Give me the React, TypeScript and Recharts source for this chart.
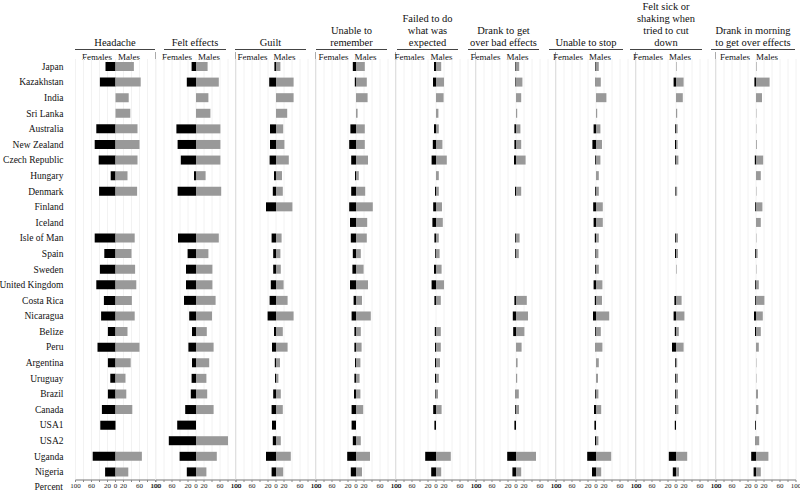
import React from "react";
import { BarChart, Bar, XAxis, YAxis, CartesianGrid } from "recharts";

const countries = [
  "Japan", "Kazakhstan", "India", "Sri Lanka", "Australia", "New Zealand", "Czech Republic",
  "Hungary", "Denmark", "Finland", "Iceland", "Isle of Man", "Spain", "Sweden", "United Kingdom",
  "Costa Rica", "Nicaragua", "Belize", "Peru", "Argentina", "Uruguay", "Brazil", "Canada",
  "USA1", "USA2", "Uganda", "Nigeria",
];

const headacheF = [25, 39, 0, 0, 48, 52, 42, 12, 41, 0, 0, 52, 28, 39, 48, 29, 36, 19, 45, 19, 13, 19, 34, 38, 0, 57, 26];
const headacheM = [46, 63, 33, 37, 55, 60, 55, 30, 54, 0, 0, 48, 40, 49, 52, 41, 48, 30, 60, 38, 25, 27, 42, 0, 0, 66, 32];

const feltF = [11, 23, 0, 0, 49, 46, 38, 5, 46, 0, 0, 45, 21, 25, 25, 30, 17, 10, 19, 10, 11, 13, 27, 47, 68, 41, 23];
const feltM = [29, 57, 31, 36, 61, 61, 61, 24, 63, 0, 0, 57, 31, 41, 41, 49, 40, 27, 44, 33, 26, 28, 44, 0, 80, 52, 26];

const guiltF = [4, 17, 0, 0, 15, 15, 16, 5, 8, 25, 0, 11, 7, 7, 13, 16, 21, 5, 10, 3, 2.5, 7, 11, 10, 8, 25, 11];
const guiltM = [11, 44, 44, 28, 18, 21, 32, 15, 17, 41, 0, 14, 11, 12, 19, 29, 44, 17, 29, 10, 6, 12, 17, 0, 12, 37, 18];

const rememberF = [8, 3, 0, 0, 14, 17, 12, 2.5, 12, 17, 15, 13, 8, 9, 15, 6, 11, 4, 4, 2.5, 4, 5, 11, 11, 8, 22, 13];
const rememberM = [22, 27, 29, 4, 22, 22, 30, 7, 23, 42, 28, 27, 12, 19, 30, 15, 37, 12, 14, 11, 9, 11, 18, 0, 12, 35, 15];

const failedF = [5, 7.5, 0, 0, 5, 8, 11, 0, 2.5, 7, 9, 4, 2, 5, 11, 4, 0, 3, 2.5, 2.5, 2.5, 1.5, 7, 4, 0, 27, 12];
const failedM = [13, 20, 19, 6, 7, 16, 27, 7, 7, 15, 17, 7, 9, 14, 20, 12, 0, 12, 12, 10, 7, 5, 14, 0, 0, 37, 13];

const drankF = [1.5, 1.5, 0, 0, 4, 4, 5, 0, 2.5, 0, 0, 2, 2, 0, 0, 4, 8, 7, 0, 0, 0, 1, 2, 4, 0, 22, 9];
const drankM = [8, 16, 13, 3, 11, 13, 24, 0, 13, 0, 0, 9, 7, 0, 0, 27, 30, 21, 14, 4, 3, 7, 7.5, 0, 0, 50, 13];

const stopF = [1.5, 1, 0, 0, 6, 9, 2, 0, 2, 7, 6, 3, 1.5, 2, 6, 3, 7.5, 2, 1, 0, 0, 2, 5, 4, 2.5, 22, 10];
const stopM = [7, 12, 26, 3, 11, 15, 11, 7, 7, 17, 17, 7, 6, 7, 16, 15, 33, 12, 16, 7, 5, 6, 13, 0, 6, 38, 13];

const sickF = [0, 6, 0, 0, 2, 2.5, 2, 0, 1.5, 0, 0, 2, 2.5, 0, 0, 4, 6, 3, 10, 2, 2, 2, 2, 3, 0, 18, 8];
const sickM = [1.5, 19, 17, 3, 4, 4, 6, 0, 3, 0, 0, 5, 5, 1.5, 0, 14, 21, 7, 19, 3, 5, 5, 6, 0, 0, 28, 7.5];

const morningF = [0, 4, 0, 0, 0, 0, 3, 0, 0, 2, 0, 0, 2, 0, 2, 2, 5, 2.5, 0, 0, 0, 0, 0, 2, 1, 12, 6];
const morningM = [1.5, 34, 15, 1, 1, 2, 18, 12, 1, 16, 12, 1, 4, 1, 7, 21, 17, 12, 7, 1, 1, 5, 6, 0, 8, 31, 12];

const panelTitles = [
  ["Headache"],
  ["Felt effects"],
  ["Guilt"],
  ["Unable to", "remember"],
  ["Failed to do", "what was", "expected"],
  ["Drank to get", "over bad effects"],
  ["Unable to stop"],
  ["Felt sick or", "shaking when", "tried to cut", "down"],
  ["Drank in morning", "to get over effects"],
];

const femaleSeries = [headacheF, feltF, guiltF, rememberF, failedF, drankF, stopF, sickF, morningF];
const maleSeries = [headacheM, feltM, guiltM, rememberM, failedM, drankM, stopM, sickM, morningM];

const axisTicks = [-100, -80, -60, -40, -20, 0, 20, 40, 60, 80, 100];
const shownTicks = [100, 60, 20, 0];

// layout (not data)
const underlines = [
  [75, 155], [164, 226], [235, 306], [316, 387], [397, 458],
  [468, 539], [549, 623], [630, 702], [711, 795],
];

const FONT = "Liberation Serif";
const PLOT_LEFT = 75.5;
const PANEL_W = 80;
const SIDE = 12;

const table = countries.map((c, i) => {
  const row: Record<string, string | number> = { country: c };
  femaleSeries.forEach((arr, k) => {
    row[`f${k}`] = -arr[i];
    row[`m${k}`] = maleSeries[k][i];
  });
  return row;
});

function CountryTick(props: any) {
  const { x, y, payload } = props;
  return (
    <text x={x} y={y} textAnchor="end" dominantBaseline="central" fontSize={9.5} fontFamily={FONT} fill="#111">
      {payload.value}
    </text>
  );
}

function Panel({ k }: { k: number }) {
  const first = k === 0;
  const left = first ? 0 : PLOT_LEFT + PANEL_W * k - SIDE;
  const width = first ? PLOT_LEFT + PANEL_W + SIDE : PANEL_W + 2 * SIDE;
  return (
    <div style={{ position: "absolute", left, top: 0 }}>
      <BarChart
        width={width}
        height={493}
        data={table}
        layout="vertical"
        stackOffset="sign"
        barSize={9}
        margin={{ top: 59, bottom: 0, left: first ? 0 : SIDE, right: SIDE }}
      >
        <CartesianGrid horizontal={false} stroke="#f2f2f2" />
        <XAxis
          type="number"
          domain={[-100, 100]}
          ticks={axisTicks}
          interval={0}
          height={13}
          tickSize={2}
          tickMargin={1}
          allowDataOverflow
          axisLine={{ stroke: "#777" }}
          tickLine={{ stroke: "#888" }}
          tick={{ fontSize: 7, fill: "#222", fontFamily: FONT }}
          tickFormatter={(v: number) => (shownTicks.includes(Math.abs(v)) ? String(Math.abs(v)) : "")}
        />
        <YAxis
          type="category"
          dataKey="country"
          hide={!first}
          width={PLOT_LEFT}
          axisLine={false}
          tickLine={false}
          tickSize={0}
          tickMargin={12}
          interval={0}
          tick={<CountryTick />}
        />
        <Bar dataKey={`f${k}`} stackId="s" fill="#000000" isAnimationActive={false} />
        <Bar dataKey={`m${k}`} stackId="s" fill="#999999" isAnimationActive={false} />
      </BarChart>
    </div>
  );
}

export default function App() {
  return (
    <div style={{ position: "absolute", left: 0, top: 0, width: 800, height: 493, background: "#fff", fontFamily: FONT }}>
      <svg width={800} height={493} style={{ position: "absolute", left: 0, top: 0 }}>
        {panelTitles.map((lines, k) => {
          const [x1, x2] = underlines[k];
          const cx = (x1 + x2) / 2;
          return (
            <g key={k}>
              {lines.map((ln, j) => (
                <text
                  key={j}
                  x={cx}
                  y={42 - (lines.length - 1 - j) * 11.7}
                  textAnchor="middle"
                  dominantBaseline="central"
                  fontSize={10.5}
                  fontFamily={FONT}
                  fill="#111"
                >
                  {ln}
                </text>
              ))}
              <line x1={x1} x2={x2} y1={49.5} y2={49.5} stroke="#444" strokeWidth={1} />
              <text x={cx - 3} y={57} textAnchor="end" dominantBaseline="central" fontSize={9} fontFamily={FONT} fill="#111">
                Females
              </text>
              <text x={cx + 3} y={57} textAnchor="start" dominantBaseline="central" fontSize={9} fontFamily={FONT} fill="#111">
                Males
              </text>
              {k < panelTitles.length - 1 && (
                <line
                  x1={PLOT_LEFT + PANEL_W * (k + 1)}
                  x2={PLOT_LEFT + PANEL_W * (k + 1)}
                  y1={52}
                  y2={480}
                  stroke="#aaaaaa"
                  strokeWidth={1}
                />
              )}
            </g>
          );
        })}
        <text x={63} y={487} textAnchor="end" dominantBaseline="central" fontSize={9.5} fontFamily={FONT} fill="#111">
          Percent
        </text>
      </svg>
      {panelTitles.map((_, k) => (
        <Panel key={k} k={k} />
      ))}
    </div>
  );
}
